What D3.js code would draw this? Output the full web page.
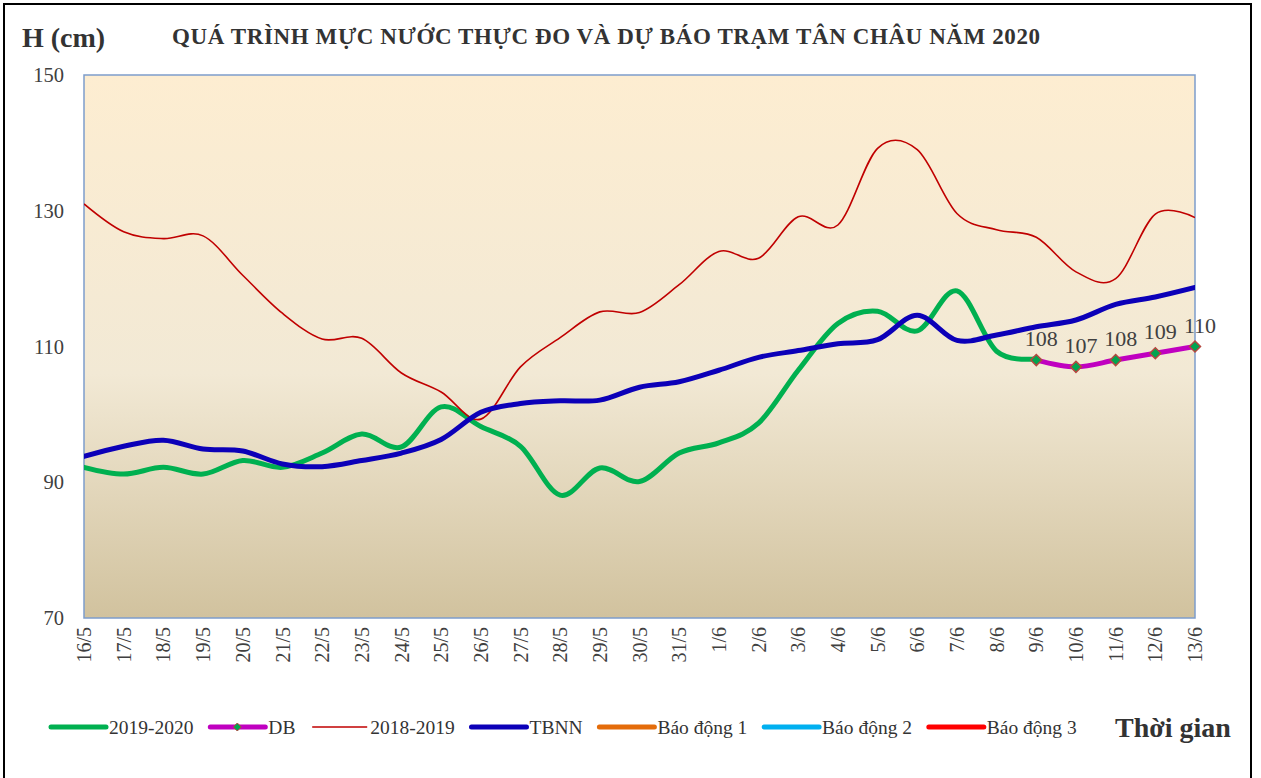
<!DOCTYPE html>
<html>
<head>
<meta charset="utf-8">
<script src="https://cdn.jsdelivr.net/npm/d3@7"></script>
<style>
  body { margin: 0; background: #fff; }
  text { font-family: "Liberation Serif", "Times New Roman", serif; }
</style>
</head>
<body>
<svg id="chart" width="1261" height="778"></svg>
<script>
// categories (days)
const dates = ["16/5", "17/5", "18/5", "19/5", "20/5", "21/5", "22/5", "23/5", "24/5", "25/5",
  "26/5", "27/5", "28/5", "29/5", "30/5", "31/5", "1/6", "2/6", "3/6", "4/6",
  "5/6", "6/6", "7/6", "8/6", "9/6", "10/6", "11/6", "12/6", "13/6"];

// measured water level 2019-2020 (to 9/6)
const level2020 = [92.2, 91.2, 92.2, 91.2, 93.2, 92.2, 94.3, 97.1, 95.2, 101.1,
  98.2, 95.3, 88.1, 92.1, 90.1, 94.3, 95.8, 98.7, 106.5, 113.4,
  115.2, 112.3, 118.2, 109.3, 108.2];

// forecast (DB)
const forecastDates = ["9/6", "10/6", "11/6", "12/6", "13/6"];
const forecast = [108, 107, 108, 109, 110];

// same period 2018-2019
const level2019 = [131.0, 126.9, 125.9, 126.3, 120.5, 114.9, 111.1, 111.2, 106.1, 103.3,
  99.3, 107.0, 111.3, 115.1, 115.0, 119.1, 124.0, 123.0, 129.1, 127.9,
  139.2, 139.0, 129.6, 127.2, 126.1, 121.0, 120.0, 129.5, 129.0];

// long-term average (TBNN)
const tbnn = [93.8, 95.3, 96.2, 94.9, 94.6, 92.7, 92.3, 93.2, 94.3, 96.3,
  100.3, 101.6, 102.0, 102.1, 104.0, 104.8, 106.5, 108.4, 109.4, 110.4,
  111.0, 114.6, 110.9, 111.7, 112.9, 113.9, 116.2, 117.3, 118.7];

// alarm levels (out of the visible range)
const alarmLevels = [350, 400, 450];

const yTicks = [70, 90, 110, 130, 150];

const svg = d3.select("#chart");
const margin = { top: 75, right: 66, bottom: 160, left: 84 };
const width = +svg.attr("width");
const height = +svg.attr("height");

// outer frame
svg.append("rect")
  .attr("x", 4).attr("y", 4)
  .attr("width", 1247).attr("height", 780)
  .attr("fill", "#fff")
  .attr("stroke", "#000")
  .attr("stroke-width", 2);

const x = d3.scalePoint()
  .domain(dates)
  .range([margin.left, width - margin.right]);

const y = d3.scaleLinear()
  .domain([70, 150])
  .range([height - margin.bottom, margin.top]);

// plot background gradient
const grad = svg.append("defs").append("linearGradient")
  .attr("id", "bg")
  .attr("x1", 0).attr("y1", 0).attr("x2", 0).attr("y2", 1);
grad.append("stop").attr("offset", "0%").attr("stop-color", "#fdedd1");
grad.append("stop").attr("offset", "55%").attr("stop-color", "#f2e9d5");
grad.append("stop").attr("offset", "100%").attr("stop-color", "#d1c29e");

svg.select("defs").append("clipPath")
  .attr("id", "clip")
  .append("rect")
  .attr("x", margin.left).attr("y", margin.top)
  .attr("width", x.range()[1] - margin.left)
  .attr("height", y.range()[0] - margin.top);

svg.append("rect")
  .attr("x", margin.left).attr("y", margin.top)
  .attr("width", x.range()[1] - margin.left)
  .attr("height", y.range()[0] - margin.top)
  .attr("fill", "url(#bg)")
  .attr("stroke", "#7d9dcb")
  .attr("stroke-width", 1.5);

// axes (labels only)
const yAxis = d3.axisLeft(y).tickValues(yTicks).tickSize(0).tickPadding(20);
svg.append("g")
  .attr("transform", `translate(${margin.left}, 0)`)
  .call(yAxis)
  .call(g => g.select(".domain").remove())
  .selectAll("text")
    .attr("font-size", 20.5)
    .attr("fill", "#404040")
    .style("font-family", "Liberation Serif");

const xAxis = d3.axisBottom(x).tickSize(0).tickPadding(0);
svg.append("g")
  .attr("transform", `translate(0, ${y.range()[0]})`)
  .call(xAxis)
  .call(g => g.select(".domain").remove())
  .selectAll("text")
    .attr("font-size", 20)
    .attr("fill", "#404040")
    .style("font-family", "Liberation Serif")
    .attr("text-anchor", "end")
    .attr("transform", "rotate(-90)")
    .attr("x", -9)
    .attr("y", 0)
    .attr("dy", "0.33em");

// lines
const curve = d3.curveCardinal.tension(0);
const lineOf = (cats) => d3.line()
  .x((d, i) => x(cats[i]))
  .y(d => y(d))
  .curve(curve);

const plot = svg.append("g").attr("clip-path", "url(#clip)");

plot.append("path")
  .datum(level2020)
  .attr("d", lineOf(dates))
  .attr("fill", "none")
  .attr("stroke", "#00b050")
  .attr("stroke-width", 5)
  .attr("stroke-linecap", "round");

plot.append("path")
  .datum(forecast)
  .attr("d", lineOf(forecastDates))
  .attr("fill", "none")
  .attr("stroke", "#c000c0")
  .attr("stroke-width", 5)
  .attr("stroke-linecap", "round");

plot.append("path")
  .datum(level2019)
  .attr("d", lineOf(dates))
  .attr("fill", "none")
  .attr("stroke", "#c00000")
  .attr("stroke-width", 1.6);

plot.append("path")
  .datum(tbnn)
  .attr("d", lineOf(dates))
  .attr("fill", "none")
  .attr("stroke", "#0c00b8")
  .attr("stroke-width", 5)
  .attr("stroke-linecap", "round");

const alarmColors = ["#e46c0a", "#00b0f0", "#ff0000"];
alarmLevels.forEach((v, i) => {
  plot.append("path")
    .datum(dates.map(() => v))
    .attr("d", lineOf(dates))
    .attr("fill", "none")
    .attr("stroke", alarmColors[i])
    .attr("stroke-width", 5);
});

// forecast markers + labels
const diamond = (cx, cy, r) => `M${cx},${cy - r}L${cx + r},${cy}L${cx},${cy + r}L${cx - r},${cy}Z`;
svg.selectAll(".db-marker")
  .data(forecast)
  .join("path")
    .attr("class", "db-marker")
    .attr("d", (d, i) => diamond(x(forecastDates[i]), y(d), 5.5))
    .attr("fill", "#00a550")
    .attr("stroke", "#b5473f")
    .attr("stroke-width", 1.5);

svg.selectAll(".db-label")
  .data(forecast)
  .join("text")
    .attr("class", "db-label")
    .attr("x", (d, i) => x(forecastDates[i]) + 5)
    .attr("y", d => y(d) - 14)
    .attr("text-anchor", "middle")
    .attr("font-size", 22)
    .attr("fill", "#404040")
    .text(d => d);

// titles
svg.append("text")
  .attr("x", 22).attr("y", 47)
  .attr("font-size", 28)
  .attr("font-weight", "bold")
  .attr("fill", "#333")
  .text("H (cm)");

svg.append("text")
  .attr("x", 172).attr("y", 44)
  .attr("font-size", 23)
  .attr("font-weight", "bold")
  .attr("fill", "#333")
  .attr("textLength", 868)
  .attr("lengthAdjust", "spacing")
  .text("QUÁ TRÌNH MỰC NƯỚC THỰC ĐO VÀ DỰ BÁO TRẠM  TÂN CHÂU NĂM 2020");

// legend
const legendItems = [
  { name: "2019-2020", color: "#00b050", w: 5 },
  { name: "DB", color: "#c000c0", w: 5, marker: true },
  { name: "2018-2019", color: "#c00000", w: 1.6 },
  { name: "TBNN", color: "#0c00b8", w: 5 },
  { name: "Báo động 1", color: alarmColors[0], w: 5 },
  { name: "Báo động 2", color: alarmColors[1], w: 5 },
  { name: "Báo động 3", color: alarmColors[2], w: 5 }
];
const legendY = 727;
let lx = 51;
legendItems.forEach(item => {
  const g = svg.append("g");
  g.append("line")
    .attr("x1", lx).attr("x2", lx + 55)
    .attr("y1", legendY).attr("y2", legendY)
    .attr("stroke", item.color)
    .attr("stroke-width", item.w)
    .attr("stroke-linecap", item.w > 2 ? "round" : "butt");
  if (item.marker) {
    g.append("path")
      .attr("d", diamond(lx + 27, legendY, 4))
      .attr("fill", "#00a550")
      .attr("stroke", "#b5473f")
      .attr("stroke-width", 1);
  }
  const t = g.append("text")
    .attr("x", lx + 58).attr("y", legendY + 7)
    .attr("font-size", 19.5)
    .attr("fill", "#333")
    .text(item.name);
  lx += 58 + t.node().getComputedTextLength() + 16.8;
});

svg.append("text")
  .attr("x", 1115).attr("y", 737)
  .attr("font-size", 28)
  .attr("font-weight", "bold")
  .attr("fill", "#333")
  .text("Thời gian");
</script>
</body>
</html>
